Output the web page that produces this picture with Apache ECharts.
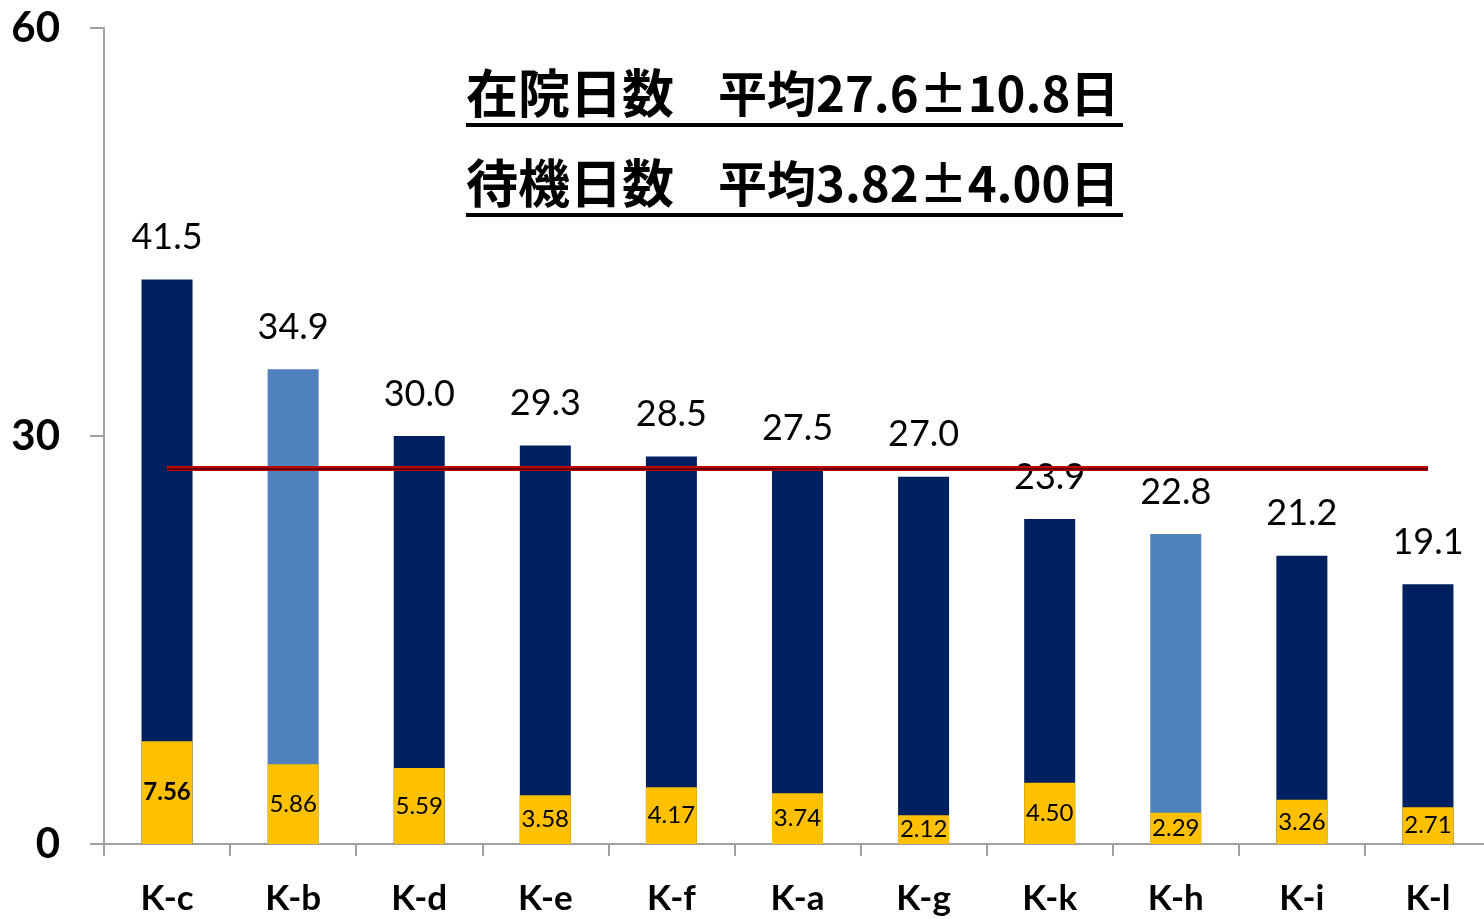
<!DOCTYPE html>
<html>
<head>
<meta charset="utf-8">
<script src="https://cdn.jsdelivr.net/npm/echarts@6/dist/echarts.min.js"></script>
<style>
  html, body { margin: 0; padding: 0; background: #fff; overflow: hidden; }
  #chart { width: 1491px; height: 919px; }
</style>
</head>
<body>
<div id="chart"></div>
<script>
const categories = ["K-c", "K-b", "K-d", "K-e", "K-f", "K-a", "K-g", "K-k", "K-h", "K-i", "K-l"];
const stayDays = [41.5, 34.9, 30.0, 29.3, 28.5, 27.5, 27.0, 23.9, 22.8, 21.2, 19.1];
const waitDays = [7.56, 5.86, 5.59, 3.58, 4.17, 3.74, 2.12, 4.50, 2.29, 3.26, 2.71];
const lightBars = ["K-b", "K-h"];
const stayMean = 27.6;
const yTicks = [0, 30, 60];
const titleHeads = ["在院日数", "待機日数"];
const titleTails = ["平均27.6±10.8日", "平均3.82±4.00日"];

const NUM_FONT = "Lato, 'Open Sans', sans-serif";
const CJK_FONT = "'Noto Sans CJK JP', sans-serif";

const chart = echarts.init(document.getElementById("chart"));

const stayData = stayDays.map((v, i) => ({
  value: v,
  itemStyle: { color: lightBars.includes(categories[i]) ? "#4F81BD" : "#002060" }
}));
const waitData = waitDays.map((v, i) => ({
  value: v,
  label: { fontWeight: i === 0 ? "bold" : "normal" }
}));

// title block: two underlined lines
const titleGraphics = [];
titleHeads.forEach((head, i) => {
  titleGraphics.push({
    type: "text", left: 466, top: 67 + i * 90,
    style: { text: head, font: "bold 52px " + CJK_FONT, fill: "#000" }
  });
  titleGraphics.push({
    type: "text", left: 718, top: 69 + i * 90,
    style: { text: titleTails[i], font: "bold 49px " + CJK_FONT, fill: "#000" }
  });
  titleGraphics.push({
    type: "rect", left: 466, top: 123 + i * 90,
    shape: { width: 657, height: 4 },
    style: { fill: "#000" }
  });
});

chart.setOption({
  animation: false,
  grid: { left: 104, right: 0, top: 28, bottom: 75 },
  xAxis: {
    type: "category",
    data: categories,
    axisLine: { lineStyle: { color: "#A0A0A0", width: 2 } },
    axisTick: { show: true, length: 12, lineStyle: { color: "#A0A0A0", width: 2 } },
    axisLabel: { color: "#000", fontSize: 35, fontWeight: "bold", fontFamily: NUM_FONT, margin: 37 }
  },
  yAxis: {
    type: "value",
    min: 0, max: 60, interval: 30,
    splitLine: { show: false },
    axisLine: { show: true, lineStyle: { color: "#A0A0A0", width: 2 } },
    axisTick: { show: true, inside: false, length: 14, lineStyle: { color: "#A0A0A0", width: 2 } },
    axisLabel: {
      color: "#000", fontSize: 42, fontWeight: "bold", fontFamily: NUM_FONT, margin: 44,
      formatter: v => yTicks.includes(v) ? String(v) : ""
    }
  },
  series: [
    {
      name: "在院日数",
      type: "bar",
      data: stayData,
      barWidth: 51,
      barGap: "-100%",
      label: {
        show: true, position: "top", distance: 24,
        color: "#000", fontSize: 36, fontFamily: NUM_FONT,
        formatter: p => p.value.toFixed(1)
      },
      markLine: {
        symbol: "none", silent: true,
        label: { show: false },
        lineStyle: { color: "#C00000", width: 5, type: "solid" },
        data: [[
          { coord: [categories[0], stayMean] },
          { coord: [categories[categories.length - 1], stayMean] }
        ]]
      }
    },
    {
      name: "待機日数",
      type: "bar",
      data: waitData,
      barWidth: 51,
      itemStyle: { color: "#FFC000" },
      label: {
        show: true, position: "inside",
        color: "#000", fontSize: 24, fontFamily: NUM_FONT,
        formatter: p => p.value.toFixed(2)
      },
      markLine: {
        symbol: "none", silent: true,
        label: { show: false },
        lineStyle: { color: "#400000", width: 1.5, type: "solid" },
        data: [[
          { coord: [categories[0], stayMean] },
          { coord: [categories[categories.length - 1], stayMean] }
        ]]
      }
    }
  ],
  graphic: titleGraphics
});
</script>
</body>
</html>
